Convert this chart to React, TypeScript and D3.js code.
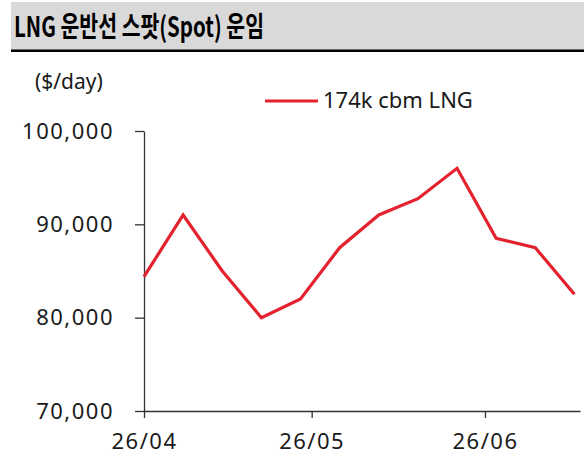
import { useEffect, useRef } from "react";
import * as d3 from "d3";

const dates = [
  "2026-04-01", "2026-04-08", "2026-04-15", "2026-04-22", "2026-04-29", "2026-05-06",
  "2026-05-13", "2026-05-20", "2026-05-27", "2026-06-03", "2026-06-10", "2026-06-17",
];
const rates = [84400, 91000, 85000, 80000, 82000, 87500, 91000, 92750, 96000, 88500, 87500, 82500];
const yTicks = [70000, 80000, 90000, 100000];
const xTicks = ["2026-04-01", "2026-05-01", "2026-06-01"];
const seriesName = "174k cbm LNG";
const title = "LNG 운반선 스팟(Spot) 운임";
const unit = "($/day)";

const parse = d3.timeParse("%Y-%m-%d");
const fmtMonth = d3.timeFormat("%y/%m");
const fmtNum = d3.format(",");

export default function App() {
  const svgRef = useRef<SVGSVGElement | null>(null);

  useEffect(() => {
    if (!svgRef.current) return;
    const width = 584;
    const height = 467;
    const red = "#e4222e";
    const font = "'Noto Sans', sans-serif";

    const svg = d3.select(svgRef.current);
    svg.selectAll("*").remove();
    svg.attr("width", width).attr("height", height);

    // title band
    svg.append("rect").attr("x", 11).attr("y", 2).attr("width", width - 11).attr("height", 48).attr("fill", "#d9d9d9");
    svg.append("rect").attr("x", 11).attr("y", 49.5).attr("width", width - 11).attr("height", 2.5).attr("fill", "#000");
    svg.append("text")
      .attr("x", 14)
      .attr("y", 37)
      .attr("font-family", "'Noto Sans CJK KR', sans-serif")
      .attr("font-size", 28)
      .attr("font-weight", 600)
      .attr("textLength", 250)
      .attr("lengthAdjust", "spacingAndGlyphs")
      .attr("fill", "#000")
      .text(title);

    const x = d3.scaleTime()
      .domain([parse("2026-04-01")!, parse("2026-06-18")!])
      .range([144, 580]);
    const y = d3.scaleLinear().domain([70000, 100000]).range([411, 131]);

    const data = dates.map((d, i) => ({ date: parse(d)!, value: rates[i] }));

    // y axis
    const yAxis = svg.append("g")
      .attr("transform", "translate(144,0)")
      .call(d3.axisLeft(y).tickValues(yTicks).tickSize(9).tickSizeOuter(0).tickPadding(21).tickFormat(d => fmtNum(Number(d))));
    // x axis
    const xAxis = svg.append("g")
      .attr("transform", "translate(0,411)")
      .call(d3.axisBottom(x).tickValues(xTicks.map(d => parse(d)!)).tickSize(7).tickSizeOuter(0).tickPadding(15).tickFormat(d => fmtMonth(d as Date)));

    [yAxis, xAxis].forEach(g => {
      g.select(".domain").attr("stroke", "#333").attr("stroke-width", 1.3);
      g.selectAll(".tick line").attr("stroke", "#333").attr("stroke-width", 1.3);
      g.selectAll("text")
        .attr("font-family", font)
        .attr("font-size", 22)
        .attr("letter-spacing", 1.5)
        .attr("fill", "#1a1a1a");
    });

    const line = d3.line<{ date: Date; value: number }>()
      .x(d => x(d.date))
      .y(d => y(d.value));

    svg.append("path")
      .datum(data)
      .attr("d", line)
      .attr("fill", "none")
      .attr("stroke", red)
      .attr("stroke-width", 3.2)
      .attr("stroke-linejoin", "miter");

    // unit label
    svg.append("text")
      .attr("x", 35)
      .attr("y", 89)
      .attr("font-family", font)
      .attr("font-size", 21)
      .attr("fill", "#1a1a1a")
      .text(unit);

    // legend
    svg.append("line")
      .attr("x1", 265).attr("x2", 318)
      .attr("y1", 101).attr("y2", 101)
      .attr("stroke", red)
      .attr("stroke-width", 3.2);
    svg.append("text")
      .attr("x", 323)
      .attr("y", 107.5)
      .attr("font-family", font)
      .attr("font-size", 22)
      .attr("fill", "#1a1a1a")
      .text(seriesName);
  }, []);

  return <svg ref={svgRef} style={{ position: "absolute", left: 0, top: 0, display: "block" }} />;
}
